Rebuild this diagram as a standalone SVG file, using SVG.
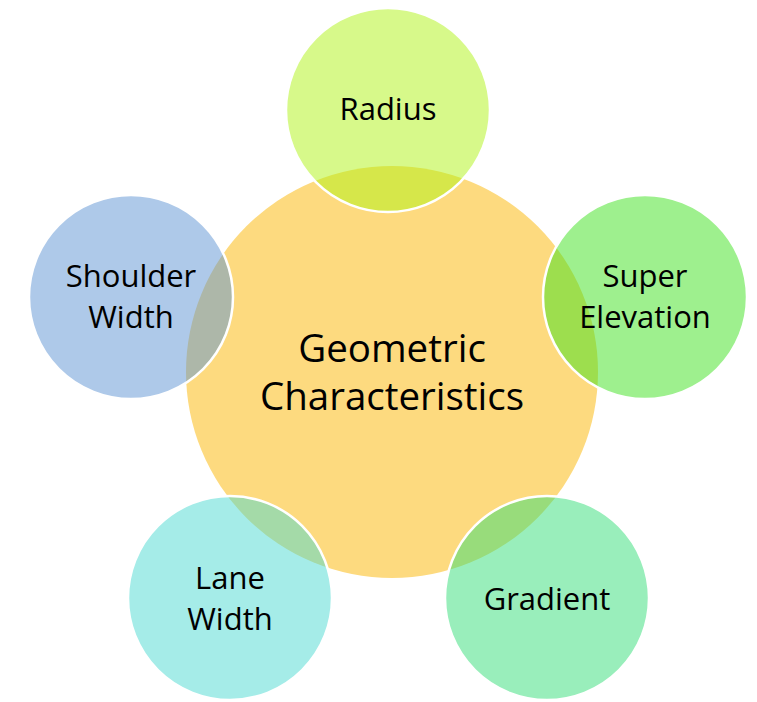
<svg xmlns="http://www.w3.org/2000/svg" width="757" height="702" viewBox="0 0 757 702">
<style>
.sat{fill-opacity:0.5;stroke:#fff;stroke-width:2.5}
text{font-family:"Open Sans","Liberation Sans",Arial,sans-serif;fill:#000;text-anchor:middle}
.s{font-size:31px}
.c{font-size:38.5px}
</style>
<rect width="757" height="702" fill="#fff"/>
<g id="center"><circle cx="392" cy="372" r="206" fill="#FDDA7F"/></g>
<g id="radius"><circle class="sat" cx="388" cy="110" r="102" fill="#AFF316"/><text class="s" x="388" y="120">Radius</text></g>
<g id="super-elevation"><circle class="sat" cx="645" cy="297" r="102" fill="#3DE11D"/><text class="s" x="645" y="287">Super</text><text class="s" x="645" y="328">Elevation</text></g>
<g id="gradient"><circle class="sat" cx="547" cy="598" r="102" fill="#33DD77"/><text class="s" x="547" y="610">Gradient</text></g>
<g id="lane-width"><circle class="sat" cx="230" cy="598" r="102" fill="#4BD9D1"/><text class="s" x="230" y="589">Lane</text><text class="s" x="230" y="630">Width</text></g>
<g id="shoulder-width"><circle class="sat" cx="131" cy="297" r="102" fill="#5D93D4"/><text class="s" x="131" y="287">Shoulder</text><text class="s" x="131" y="328">Width</text></g>
<g id="center-label"><text class="c" x="392" y="362">Geometric</text><text class="c" x="392" y="410">Characteristics</text></g>
<g id="connectors"/>
</svg>
